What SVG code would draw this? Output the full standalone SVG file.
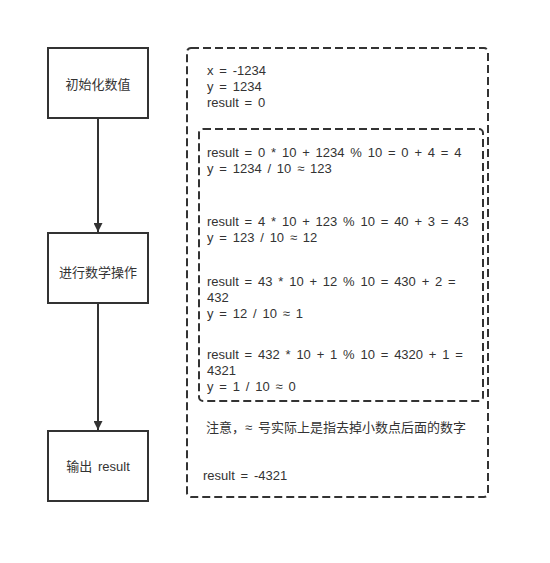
<svg xmlns="http://www.w3.org/2000/svg" width="550" height="563" viewBox="0 0 550 563">
<defs>
<style>
.box{fill:#fff;stroke:#333;stroke-width:2}
.dash{fill:none;stroke:#333;stroke-width:2;stroke-dasharray:8 4}
.t{font-family:"Liberation Sans","Noto Sans CJK SC",sans-serif;font-size:13px;fill:#333;word-spacing:2.2px}
.c{text-anchor:middle}
.edge{stroke:#333;stroke-width:2;fill:none}
</style>
<marker id="arr" viewBox="0 0 10 10" refX="10" refY="5" markerWidth="11" markerHeight="9" markerUnits="userSpaceOnUse" orient="auto">
<path d="M0,0 L10,5 L0,10 z" fill="#333"/>
</marker>
</defs>
<rect width="550" height="563" fill="#fff"/>
<g id="connectors">
<line class="edge" x1="98" y1="118" x2="98" y2="232" marker-end="url(#arr)"/>
<line class="edge" x1="98" y1="303" x2="98" y2="430" marker-end="url(#arr)"/>
</g>
<g id="node-init">
<rect class="box" x="48" y="48" width="100" height="70"/>
<text class="t c" x="98" y="89">初始化数值</text>
</g>
<g id="node-op">
<rect class="box" x="48" y="233" width="100" height="70"/>
<text class="t c" x="98" y="277">进行数学操作</text>
</g>
<g id="node-out">
<rect class="box" x="48" y="431" width="100" height="70"/>
<text class="t c" x="98" y="471">输出 result</text>
</g>
<g id="outer-note">
<rect class="dash" x="187" y="48" width="301" height="449" rx="4"/>
<text class="t" x="207" y="75">x = -1234</text>
<text class="t" x="207" y="91">y = 1234</text>
<text class="t" x="207" y="107">result = 0</text>
<text class="t" x="206" y="432">注意，≈ 号实际上是指去掉小数点后面的数字</text>
<text class="t" x="203" y="480">result = -4321</text>
</g>
<g id="inner-note">
<rect class="dash" x="199" y="129" width="284" height="272" rx="4"/>
<text class="t" x="207" y="157">result = 0 * 10 + 1234 % 10 = 0 + 4 = 4</text>
<text class="t" x="207" y="173">y = 1234 / 10 ≈ 123</text>
<text class="t" x="207" y="226">result = 4 * 10 + 123 % 10 = 40 + 3 = 43</text>
<text class="t" x="207" y="242">y = 123 / 10 ≈ 12</text>
<text class="t" x="207" y="286">result = 43 * 10 + 12 % 10 = 430 + 2 =</text>
<text class="t" x="207" y="302">432</text>
<text class="t" x="207" y="318">y = 12 / 10 ≈ 1</text>
<text class="t" x="207" y="359">result = 432 * 10 + 1 % 10 = 4320 + 1 =</text>
<text class="t" x="207" y="375">4321</text>
<text class="t" x="207" y="391">y = 1 / 10 ≈ 0</text>
</g>
</svg>
